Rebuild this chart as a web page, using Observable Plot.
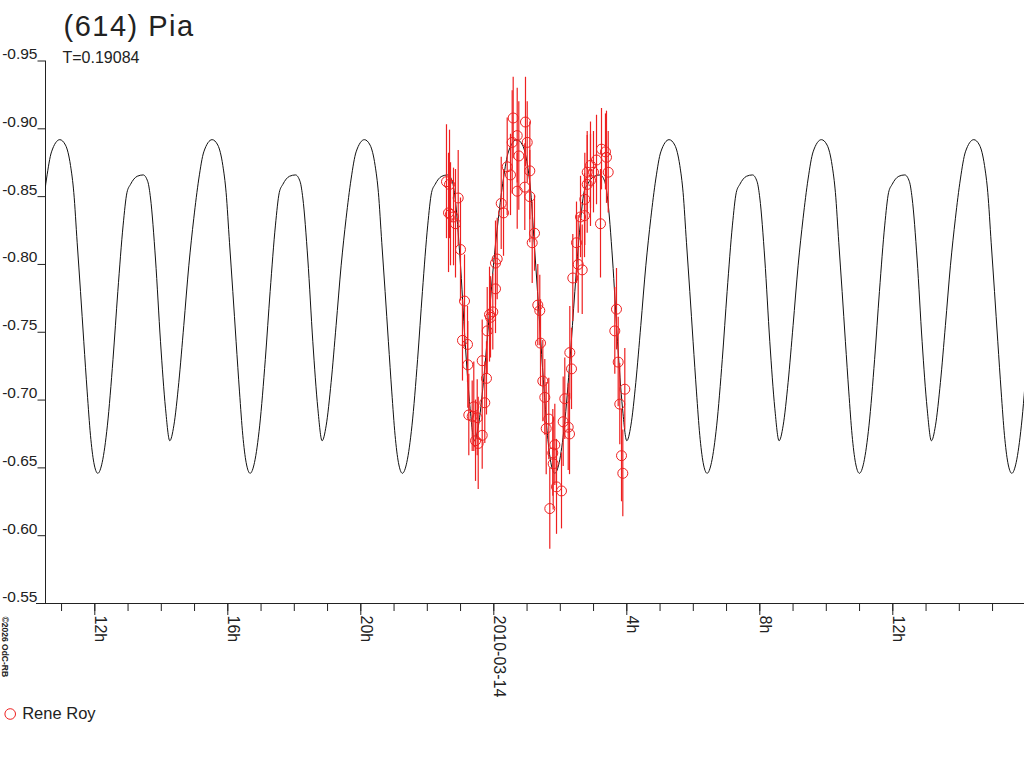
<!DOCTYPE html>
<html>
<head>
<meta charset="utf-8">
<script src="https://cdn.jsdelivr.net/npm/d3@7"></script>
<script src="https://cdn.jsdelivr.net/npm/@observablehq/plot@0.6"></script>
<style>
  body { margin: 0; background: #fff; }
</style>
</head>
<body>
<div id="chart"></div>
<script>
// ---- Text ----
const titleText = "(614) Pia";
const subtitleText = "T=0.19084";
const observerName = "Rene Roy";
const copyrightText = "\u00a92026 OdC-RB";

// ---- Axes (time in hours relative to 2010-03-14 00:00 UT) ----
const xDomain = [-13.483, 15.961];
const yDomain = [-0.95, -0.55];
const yTicks = [-0.95, -0.90, -0.85, -0.80, -0.75, -0.70, -0.65, -0.60, -0.55];
const hourTicks = [-13,-12,-11,-10,-9,-8,-7,-6,-5,-4,-3,-2,-1,0,1,2,3,4,5,6,7,8,9,10,11,12,13,14,15];
const majorTicks = [-12, -8, -4, 0, 4, 8, 12];
const majorLabels = ["12h", "16h", "20h", "2010-03-14", "4h", "8h", "12h"];

// ---- Observations (Rene Roy): time [h], magnitude, error ----
const obsTime = [-1.423,-1.332,-1.362,-1.302,-1.212,-1.152,-1.071,-1.002,
  -0.942,-0.881,-0.791,-0.782,-0.752,-0.650,-0.602,-0.550,-0.499,-0.469,-0.349,-0.349,
  -0.271,-0.220,-0.198,-0.129,-0.099,-0.030,0.051,0.051,0.102,0.223,
  0.292,0.403,0.502,0.553,0.583,0.704,0.704,0.752,0.932,0.953,
  1.005,1.083,1.083,1.155,1.224,1.323,1.383,1.405,1.474,1.534,
  1.576,1.654,1.684,1.774,1.786,1.835,1.886,2.036,2.087,2.135,
  2.238,2.277,2.286,2.337,2.376,2.487,2.538,2.608,2.659,2.728,
  2.737,2.809,2.809,2.908,2.908,2.998,3.089,3.239,3.359,3.389,
  3.209,3.441,3.639,3.690,3.741,3.789,3.841,3.880,3.940];
const obsMag = [-0.861,-0.859,-0.838,-0.837,-0.835,-0.830,-0.849,-0.811,
  -0.744,-0.773,-0.741,-0.726,-0.689,-0.688,-0.695,-0.670,-0.687,-0.668,-0.674,-0.729,
  -0.698,-0.716,-0.751,-0.763,-0.761,-0.765,-0.782,-0.801,-0.804,-0.845,
  -0.838,-0.872,-0.866,-0.890,-0.908,-0.895,-0.854,-0.880,-0.857,-0.905,
  -0.890,-0.869,-0.850,-0.816,-0.823,-0.770,-0.766,-0.742,-0.714,-0.702,
  -0.679,-0.686,-0.620,-0.661,-0.653,-0.667,-0.636,-0.633,-0.684,-0.701,
  -0.680,-0.675,-0.735,-0.723,-0.790,-0.816,-0.800,-0.835,-0.796,-0.836,
  -0.848,-0.868,-0.859,-0.873,-0.862,-0.868,-0.877,-0.885,-0.883,-0.879,
  -0.830,-0.868,-0.751,-0.767,-0.728,-0.697,-0.659,-0.646,-0.708];
const obsErr = [0.042,0.040,0.044,0.038,0.036,0.040,0.035,0.038,
  0.030,0.034,0.028,0.032,0.030,0.026,0.033,0.030,0.028,0.034,0.025,0.030,
  0.030,0.027,0.032,0.035,0.030,0.028,0.033,0.031,0.030,0.034,
  0.032,0.036,0.030,0.038,0.030,0.035,0.028,0.040,0.032,0.033,
  0.030,0.036,0.034,0.030,0.028,0.030,0.026,0.032,0.030,0.028,
  0.034,0.030,0.030,0.032,0.034,0.030,0.035,0.028,0.033,0.030,
  0.032,0.030,0.034,0.030,0.032,0.030,0.036,0.030,0.033,0.031,
  0.034,0.030,0.036,0.032,0.034,0.030,0.033,0.030,0.028,0.034,
  0.040,0.030,0.032,0.030,0.033,0.030,0.034,0.032,0.030];

// ---- Model lightcurve: one cycle, placed at each primary maximum ----
const curveEpochs = [-17.633, -13.053, -8.472, -3.892, 0.692, 5.272, 9.853, 14.436];
const curveShapeDt = [0,0.171,0.322,0.421,0.523,0.623,0.722,0.824,0.923,1.023,
  1.143,1.275,1.430,1.600,1.745,1.905,2.020,2.126,2.328,2.508,
  2.647,2.728,2.878,3.029,3.179,3.308,3.429,3.579,3.729,3.880,
  4.030,4.180,4.331];
const curveShapeMag = [-0.892,-0.888,-0.873,-0.853,-0.816,-0.780,-0.743,-0.706,-0.674,-0.654,
  -0.646,-0.654,-0.681,-0.730,-0.780,-0.829,-0.853,-0.859,-0.865,-0.866,
  -0.861,-0.849,-0.804,-0.743,-0.694,-0.670,-0.681,-0.713,-0.755,-0.799,
  -0.834,-0.863,-0.883];

// ---- Build tables ----
const obs = obsTime.map((t, i) => ({t, mag: obsMag[i], err: obsErr[i]}));
const curve = [];
curveEpochs.forEach(e => curveShapeDt.forEach((dt, i) => curve.push({t: e + dt, mag: curveShapeMag[i]})));

const W = 1024, H = 768;
const mLeft = 45, mRight = 0, mTop = 60.5, mBottom = 165;
const frameH = H - mTop - mBottom;
const frameW = W - mLeft - mRight;
const RED = "#ee2020";
const INK = "#222";

const chart = Plot.plot({
  width: W,
  height: H,
  marginLeft: mLeft,
  marginRight: mRight,
  marginTop: mTop,
  marginBottom: mBottom,
  style: {background: "white", fontFamily: "'Liberation Sans', Arial, sans-serif", fontSize: "15px", overflow: "visible"},
  x: {domain: xDomain, axis: null},
  y: {domain: yDomain, reverse: true, axis: null},
  marks: [
    // axis lines
    Plot.ruleX([xDomain[0]], {stroke: INK}),
    Plot.ruleY([yDomain[1]], {stroke: INK, insetLeft: -9}),
    // y ticks + labels
    Plot.ruleY(yTicks, {y: d => d, stroke: INK, insetLeft: -7.5, insetRight: frameW}),
    Plot.text(yTicks, {y: d => d, text: d => d.toFixed(2), frameAnchor: "left", textAnchor: "end",
      lineAnchor: "bottom", dx: -8, dy: -2, fontSize: 15.5, fill: INK}),
    // x ticks + labels
    Plot.ruleX(hourTicks, {x: d => d, stroke: INK, insetTop: frameH, insetBottom: -8}),
    Plot.ruleX(majorTicks, {x: d => d, stroke: INK, insetTop: frameH, insetBottom: -12}),
    Plot.text(majorTicks, {x: d => d, text: (d, i) => majorLabels[i], frameAnchor: "bottom", rotate: 90,
      textAnchor: "start", lineAnchor: "bottom", dy: 12, fontSize: 16, fill: INK}),
    // model curve
    Plot.line(curve, {x: "t", y: "mag", stroke: "#111", strokeWidth: 1, curve: "monotone-x", clip: true}),
    // observations
    Plot.ruleX(obs, {x: "t", y1: d => d.mag - d.err, y2: d => d.mag + d.err, stroke: RED, strokeWidth: 1.2}),
    Plot.dot(obs, {x: "t", y: "mag", r: 5, stroke: RED, fill: "none", strokeWidth: 1}),
    // title & subtitle
    Plot.text([titleText], {frameAnchor: "top-left", textAnchor: "start", lineAnchor: "bottom",
      dx: 18, dy: 35 - mTop, fontSize: 29, fill: INK}),
    Plot.text([subtitleText], {frameAnchor: "top-left", textAnchor: "start", lineAnchor: "bottom",
      dx: 17, dy: 62.3 - mTop, fontSize: 16, fill: INK}),
    // copyright
    Plot.text([copyrightText], {frameAnchor: "bottom-left", rotate: 90, textAnchor: "start", lineAnchor: "bottom",
      dx: 1 - mLeft, dy: 13, fontSize: 8.5, fontWeight: "bold", fill: INK}),
    // legend
    Plot.dot([0], {frameAnchor: "bottom-left", dx: 9.7 - mLeft, dy: 713.5 - (H - mBottom), r: 5.3,
      stroke: RED, fill: "none", strokeWidth: 1}),
    Plot.text([observerName], {frameAnchor: "bottom-left", textAnchor: "start", lineAnchor: "bottom",
      dx: 21.7 - mLeft, dy: 718.5 - (H - mBottom), fontSize: 16.5, fill: INK})
  ]
});

d3.select(chart).selectAll("text")
  .filter(function () { return this.textContent === titleText; })
  .attr("letter-spacing", "1.5px");

document.getElementById("chart").appendChild(chart);
</script>
</body>
</html>
